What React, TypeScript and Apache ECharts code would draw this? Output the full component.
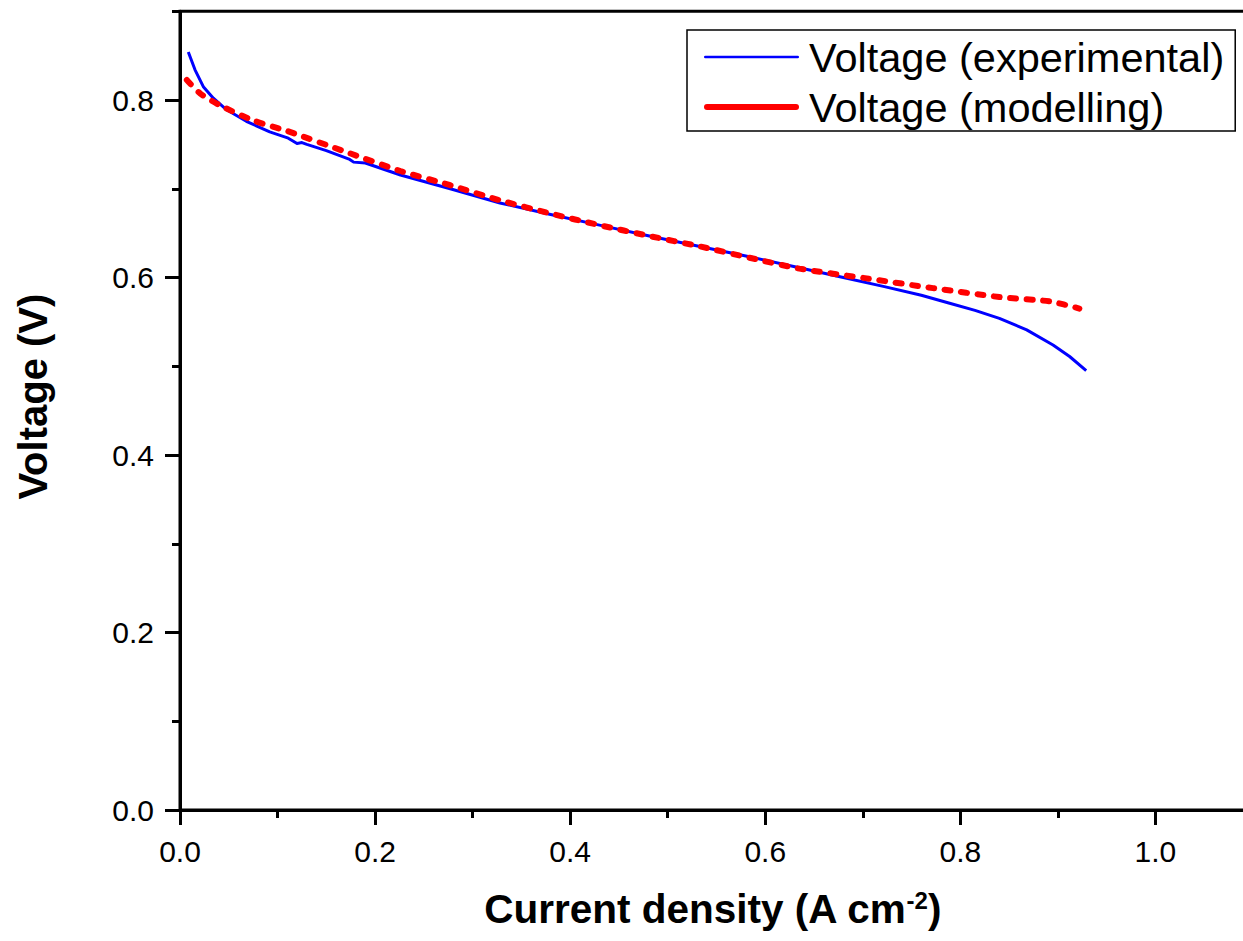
import React, { useEffect, useRef } from "react";
import * as echarts from "echarts";

// Experimental polarization curve (current density A/cm², voltage V)
const expCurrent = [0.0085, 0.0154, 0.0239, 0.0342, 0.0478, 0.068, 0.092, 0.111, 0.120, 0.125, 0.130, 0.150, 0.174, 0.178, 0.190, 0.226, 0.277, 0.328, 0.380, 0.430, 0.480, 0.533, 0.585, 0.635, 0.680, 0.721, 0.760, 0.789, 0.815, 0.840, 0.868, 0.895, 0.912, 0.929];
const expVoltage = [0.854, 0.834, 0.815, 0.802, 0.789, 0.776, 0.764, 0.757, 0.751, 0.752, 0.750, 0.743, 0.733, 0.730, 0.729, 0.7155, 0.700, 0.684, 0.671, 0.659, 0.647, 0.635, 0.623, 0.611, 0.600, 0.590, 0.580, 0.571, 0.563, 0.554, 0.541, 0.524, 0.511, 0.495];

// Modelled polarization curve
const modCurrent = [0.007, 0.0205, 0.041, 0.075, 0.110, 0.174, 0.226, 0.277, 0.328, 0.380, 0.430, 0.480, 0.533, 0.585, 0.635, 0.704, 0.772, 0.840, 0.892, 0.922];
const modVoltage = [0.8225, 0.8075, 0.794, 0.777, 0.765, 0.740, 0.720, 0.704, 0.687, 0.672, 0.659, 0.647, 0.635, 0.622, 0.610, 0.599, 0.588, 0.578, 0.573, 0.565];

// Tick values
const xMajorTicks = [0, 0.2, 0.4, 0.6, 0.8, 1.0];
const xMinorTicks = [0.1, 0.3, 0.5, 0.7, 0.9];
const yMajorTicks = [0, 0.2, 0.4, 0.6, 0.8];
const yMinorTicks = [0.1, 0.3, 0.5, 0.7, 0.9];

const seriesNames = ["Voltage (experimental)", "Voltage (modelling)"];

const FONT = "Liberation Sans, Arial, Helvetica, sans-serif";

export default function App() {
  const ref = useRef<HTMLDivElement>(null);
  useEffect(() => {
    if (!ref.current) return;
    const chart = echarts.init(ref.current, null, { renderer: "svg" });
    const axisLineStyle = { color: "#000", width: 3 };
    const option: any = {
      animation: false,
      backgroundColor: "#fff",
      textStyle: { fontFamily: FONT },
      grid: {
        left: 180,
        top: 11.25,
        right: -10,
        bottom: 131,
        containLabel: false,
        outerBoundsMode: "none",
        show: true,
        borderColor: "#000",
        borderWidth: 3,
        backgroundColor: "transparent",
      },
      legend: {
        orient: "vertical",
        left: 687,
        top: 30,
        padding: [5, 11, 2, 17],
        itemGap: 6,
        itemWidth: 95,
        itemHeight: 14,
        borderColor: "#000",
        borderWidth: 1.5,
        textStyle: {
          fontFamily: FONT,
          fontSize: 41.5,
          color: "#000",
          lineHeight: 44,
          padding: [0, 0, 0, 5],
        },
        data: [
          { name: seriesNames[0], icon: "path://M1.35,0 L93.65,0 A1.35,1.35 0 0 1 93.65,2.7 L1.35,2.7 A1.35,1.35 0 0 1 1.35,0 Z", itemStyle: { color: "#0000ff" } },
          {
            name: seriesNames[1],
            icon: "path://M3,0 L92,0 A3,3 0 0 1 92,6 L3,6 A3,3 0 0 1 3,0 Z",
            itemStyle: { color: "#ff0000" },
          },
        ],
      },
      xAxis: [
        {
          type: "value",
          position: "bottom",
          min: 0,
          max: 1.1,
          interval: 0.1,
          name: "{a|Current density (A cm}{s|-2}{a|)}",
          nameLocation: "middle",
          nameGap: 78,
          nameTextStyle: {
            padding: [0, 8, 0, 0],
            rich: {
              a: { fontFamily: FONT, fontSize: 40.5, fontWeight: "bold", color: "#000" },
              s: { fontFamily: FONT, fontSize: 24, fontWeight: "bold", color: "#000", verticalAlign: "top", padding: [0, 0, 18, 0] },
            },
          },
          axisLine: { show: true, onZero: false, lineStyle: axisLineStyle },
          axisTick: { show: true, length: 15, lineStyle: { color: "#000", width: 3 }, customValues: xMajorTicks },
          axisLabel: {
            customValues: xMajorTicks,
            formatter: (v: number) => v.toFixed(1),
            fontSize: 30,
            color: "#000",
            fontFamily: FONT,
            margin: 26,
          },
          splitLine: { show: false },
        },
        {
          type: "value",
          position: "bottom",
          min: 0,
          max: 1.1,
          interval: 0.1,
          axisLine: { show: false },
          axisTick: { show: true, length: 8, lineStyle: { color: "#000", width: 3 }, customValues: xMinorTicks },
          axisLabel: { show: false },
          splitLine: { show: false },
        },
      ],
      yAxis: [
        {
          type: "value",
          position: "left",
          min: 0,
          max: 0.9,
          interval: 0.1,
          name: "Voltage (V)",
          nameLocation: "middle",
          nameGap: 127,
          nameTextStyle: { fontFamily: FONT, fontSize: 40, fontWeight: "bold", color: "#000", padding: [0, 0, 0, 28] },
          axisLine: { show: true, onZero: false, lineStyle: axisLineStyle },
          axisTick: { show: true, length: 15, lineStyle: { color: "#000", width: 3 }, customValues: yMajorTicks },
          axisLabel: {
            customValues: yMajorTicks,
            formatter: (v: number) => v.toFixed(1),
            fontSize: 30,
            color: "#000",
            fontFamily: FONT,
            margin: 26,
          },
          splitLine: { show: false },
        },
        {
          type: "value",
          position: "left",
          min: 0,
          max: 0.9,
          interval: 0.1,
          axisLine: { show: false },
          axisTick: { show: true, length: 8, lineStyle: { color: "#000", width: 3 }, customValues: yMinorTicks },
          axisLabel: { show: false },
          splitLine: { show: false },
        },
      ],
      series: [
        {
          name: seriesNames[0],
          type: "line",
          xAxisIndex: 0,
          yAxisIndex: 0,
          data: expCurrent.map((x, i) => [x, expVoltage[i]]),
          showSymbol: false,
          symbol: "none",
          smooth: false,
          lineStyle: { color: "#0000ff", width: 3, join: "round" },
          itemStyle: { color: "#0000ff" },
          z: 2,
        },
        {
          name: seriesNames[1],
          type: "line",
          xAxisIndex: 0,
          yAxisIndex: 0,
          data: modCurrent.map((x, i) => [x, modVoltage[i]]),
          showSymbol: false,
          symbol: "none",
          smooth: 0.25,
          lineStyle: { color: "#ff0000", width: 6, type: [6, 10.5], cap: "round" },
          itemStyle: { color: "#ff0000" },
          z: 3,
        },
      ],
    };
    chart.setOption(option);
    return () => chart.dispose();
  }, []);
  return (
    <div
      ref={ref}
      style={{ position: "fixed", left: 0, top: 0, width: 1243, height: 941, background: "#fff" }}
    />
  );
}
